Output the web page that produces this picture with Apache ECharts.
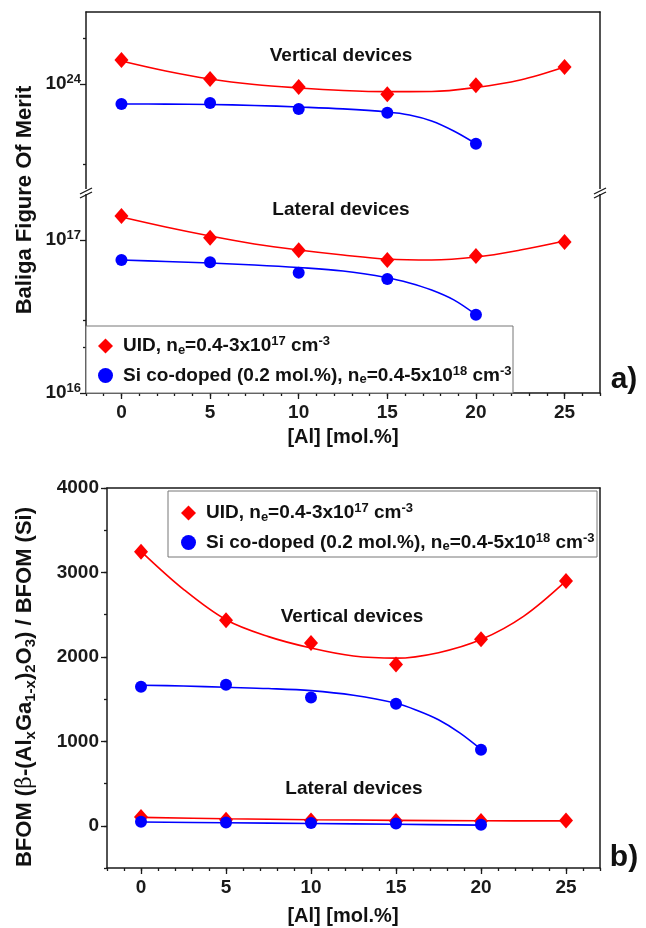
<!DOCTYPE html>
<html><head><meta charset="utf-8">
<script src="https://cdn.jsdelivr.net/npm/echarts@6/dist/echarts.min.js"></script>
<style>html,body{margin:0;padding:0;background:#fff}#c{width:646px;height:928px}</style>
</head><body><div id="c"></div>
<script>
// ---------- data ----------
const xUID = [0, 5, 10, 15, 20, 25];
const xSi = [0, 5, 10, 15, 20];
// panel a (Baliga figure of merit, log scale)
const aVertUID = [1.435e24, 1.078e24, 0.956e24, 0.857e24, 0.981e24, 1.291e24];
const aVertSi = [0.740e24, 0.751e24, 0.687e24, 0.649e24, 0.407e24];
const aLatUID = [1.435e17, 1.035e17, 0.857e17, 0.740e17, 0.786e17, 0.970e17];
const aLatSi = [0.740e17, 0.715e17, 0.611e17, 0.556e17, 0.325e17];
// fitted curves
const fitX = [0, 2.5, 5, 7.5, 10, 12.5, 15, 17.5, 20, 22.5, 25];
const fitXSi = [0, 2.5, 5, 7.5, 10, 12.5, 15, 16.25, 17.5, 18.75, 20];
const aVertUIDFit = [1.413e24, 1.216e24, 1.078e24, 0.992e24, 0.942e24, 0.907e24, 0.891e24, 0.893e24, 0.949e24, 1.062e24, 1.291e24];
const aVertSiFit = [0.740e24, 0.738e24, 0.734e24, 0.724e24, 0.707e24, 0.687e24, 0.656e24, 0.627e24, 0.573e24, 0.493e24, 0.407e24];
const aLatUIDFit = [1.413e17, 1.216e17, 1.062e17, 0.942e17, 0.860e17, 0.798e17, 0.751e17, 0.740e17, 0.774e17, 0.860e17, 0.985e17];
const aLatSiFit = [0.740e17, 0.724e17, 0.707e17, 0.687e17, 0.661e17, 0.627e17, 0.567e17, 0.524e17, 0.471e17, 0.406e17, 0.325e17];
// panel b (BFOM ratio, linear)
const bVertUID = [3245, 2435, 2165, 1910, 2210, 2900];
const bVertSi = [1645, 1670, 1520, 1445, 900];
const bLatUID = [103, 71, 63, 56, 56, 63];
const bLatSi = [47, 40, 32, 27, 12];
const bVertUIDFit = [3250, 2800, 2440, 2240, 2105, 2010, 1985, 2050, 2205, 2480, 2900];
const bVertSiFit = [1665, 1655, 1640, 1625, 1600, 1545, 1450, 1365, 1255, 1100, 905];
const bLatUIDFit = [100, 84, 72, 64, 59, 58];
const bLatSiFit = [45, 36, 27, 18, 8];
// tick labels
const xTicks = [0, 5, 10, 15, 20, 25];
const bYTicks = [0, 1000, 2000, 3000, 4000];

// ---------- helpers ----------
const FONT = '"Liberation Sans", Arial, sans-serif';
const RED = '#ff0000', BLUE = '#0000ff', AX = '#1a1a1a';
const zip = (xs, ys) => xs.map((x, i) => [x, ys[i]]);
const supRich = { sup: { fontSize: 13, fontWeight: 'bold', fontFamily: FONT, color: AX, padding: [0, 0, 10, 0] } };
const axLine = { show: true, onZero: false, lineStyle: { color: AX, width: 1.5 } };
const noLine = { show: false, onZero: false };

function scatter(name, xi, yi, xs, ys) {
  const isUID = name === 'UID';
  return { type: 'scatter', name, xAxisIndex: xi, yAxisIndex: yi, data: zip(xs, ys),
    symbol: isUID ? 'diamond' : 'circle', symbolSize: isUID ? [14, 16] : 12,
    itemStyle: { color: isUID ? RED : BLUE, opacity: 1 }, z: 5 };
}
function fit(name, xi, yi, xs, ys, color) {
  return { type: 'line', name, xAxisIndex: xi, yAxisIndex: yi, data: zip(xs, ys), smooth: 0.35,
    showSymbol: false, symbol: 'none', lineStyle: { color, width: 1.6 }, z: 3, silent: true };
}
const legendFmt = n => n === 'UID'
  ? '{f|UID, n}{sub|e}{t|=0.4-3x10}{sup|17}{t| cm}{sup|-3}'
  : '{f|Si co-doped (0.2 mol.%), n}{sub|e}{t|=0.4-5x10}{sup|18}{t| cm}{sup|-3}';
const legendRich = {
  f: { fontSize: 19, fontWeight: 'bold', fontFamily: FONT, color: '#111', padding: [0, 0, 0, 5] },
  t: { fontSize: 19, fontWeight: 'bold', fontFamily: FONT, color: '#111' },
  sub: { fontSize: 13, fontWeight: 'bold', fontFamily: FONT, color: '#111', padding: [8, 0, 0, 0] },
  sup: { fontSize: 13, fontWeight: 'bold', fontFamily: FONT, color: '#111', padding: [0, 0, 9, 0] }
};
function mkLegend(left, top) {
  return { orient: 'vertical', left, top, itemGap: 8, itemWidth: 15, itemHeight: 15,
    data: [{ name: 'UID', icon: 'diamond' }, { name: 'Si', icon: 'circle' }],
    itemStyle: { opacity: 1 },
    formatter: legendFmt, textStyle: { rich: legendRich }, selectedMode: false };
}
const isPow10 = v => Math.abs(Math.log10(v) - Math.round(Math.log10(v))) < 1e-6;
const logLabel = { fontSize: 19, fontWeight: 'bold', fontFamily: FONT, color: AX, margin: 5,
  formatter: v => isPow10(v) ? '10{sup|' + Math.round(Math.log10(v)) + '}' : '', rich: supRich };

function breakMark(x, y) {
  return { type: 'group', x, y, children: [
    { type: 'rect', shape: { x: -2, y: -3, width: 4, height: 5 }, style: { fill: '#fff' }, z: 100 },
    { type: 'line', shape: { x1: -6, y1: 2, x2: 6, y2: -4 }, style: { stroke: AX, lineWidth: 1.3 }, z: 101 },
    { type: 'line', shape: { x1: -6, y1: 6, x2: 6, y2: 0 }, style: { stroke: AX, lineWidth: 1.3 }, z: 101 }
  ] };
}
function txt(x, y, text, size, extra) {
  return Object.assign({ type: 'text', x, y, z: 50, style: { text, fontSize: size, fontWeight: 'bold', fontFamily: FONT,
    fill: '#111', align: 'center', verticalAlign: 'middle' } }, extra || {});
}

const chart = echarts.init(document.getElementById('c'), null, { renderer: 'canvas' });
const xBase = { type: 'value', min: -2, max: 27, splitLine: { show: false } };
const noStuff = { axisTick: { show: false }, axisLabel: { show: false }, splitLine: { show: false } };
const tickLabelX = { fontSize: 19, fontWeight: 'bold', fontFamily: FONT, color: AX, margin: 10,
  formatter: v => xTicks.includes(v) ? String(v) : '' };

chart.setOption({
  animation: false,
  backgroundColor: '#fff',
  grid: [
    { left: 86, right: 46, top: 12, height: 180 },
    { left: 86, right: 46, top: 192, height: 201 },
    { left: 107, right: 46, top: 488, height: 380 }
  ],
  xAxis: [
    Object.assign({}, xBase, noStuff, { gridIndex: 0, position: 'top', axisLine: axLine }),
    Object.assign({}, xBase, { gridIndex: 1, position: 'bottom', interval: 1, axisLine: axLine,
      axisTick: { show: true, inside: false, length: 3, lineStyle: { color: AX, width: 1.3 } },
      axisLabel: tickLabelX }),
    Object.assign({}, xBase, { gridIndex: 1, position: 'bottom', axisLine: noLine,
      axisTick: { show: true, length: 6, customValues: xTicks, lineStyle: { color: AX, width: 1.3 } },
      axisLabel: { show: false } }),
    Object.assign({}, xBase, { gridIndex: 2, position: 'bottom', interval: 1, axisLine: axLine,
      axisTick: { show: true, length: 3, lineStyle: { color: AX, width: 1.3 } },
      axisLabel: tickLabelX }),
    Object.assign({}, xBase, { gridIndex: 2, position: 'bottom', axisLine: noLine,
      axisTick: { show: true, length: 6, customValues: xTicks, lineStyle: { color: AX, width: 1.3 } },
      axisLabel: { show: false } }),
    Object.assign({}, xBase, noStuff, { gridIndex: 2, position: 'top', axisLine: axLine })
  ],
  yAxis: [
    { type: 'log', logBase: 10, gridIndex: 0, position: 'left', min: 1.97e23, max: 2.95e24, axisLine: axLine,
      axisTick: { show: true, length: 6, customValues: [1e24], lineStyle: { color: AX, width: 1.3 } },
      axisLabel: Object.assign({ customValues: [1e24] }, logLabel), splitLine: { show: false } },
    Object.assign({ type: 'log', gridIndex: 0, position: 'right', min: 1.97e23, max: 2.95e24, axisLine: axLine }, noStuff),
    { type: 'log', gridIndex: 0, position: 'left', min: 1.97e23, max: 2.95e24, axisLine: noLine,
      axisTick: { show: true, length: 3, customValues: [3e23, 2e24], lineStyle: { color: AX, width: 1.3 } },
      axisLabel: { show: false }, splitLine: { show: false } },
    { type: 'log', logBase: 10, gridIndex: 1, position: 'left', min: 1e16, max: 2.06e17, axisLine: axLine,
      axisTick: { show: true, length: 6, customValues: [1e16, 1e17], lineStyle: { color: AX, width: 1.3 } },
      axisLabel: Object.assign({ customValues: [1e16, 1e17] }, logLabel), splitLine: { show: false } },
    Object.assign({ type: 'log', gridIndex: 1, position: 'right', min: 1e16, max: 2.06e17, axisLine: axLine }, noStuff),
    { type: 'log', gridIndex: 1, position: 'left', min: 1e16, max: 2.06e17, axisLine: noLine,
      axisTick: { show: true, length: 3, customValues: [2e16, 3e16], lineStyle: { color: AX, width: 1.3 } },
      axisLabel: { show: false }, splitLine: { show: false } },
    { type: 'value', gridIndex: 2, position: 'left', min: -500, max: 4000, interval: 500, axisLine: axLine,
      axisTick: { show: true, length: 3, lineStyle: { color: AX, width: 1.3 } },
      axisLabel: { fontSize: 19, fontWeight: 'bold', fontFamily: FONT, color: AX, margin: 8,
        formatter: v => bYTicks.includes(v) ? String(v) : '' }, splitLine: { show: false } },
    { type: 'value', gridIndex: 2, position: 'left', min: -500, max: 4000, axisLine: noLine,
      axisTick: { show: true, length: 6, customValues: bYTicks, lineStyle: { color: AX, width: 1.3 } },
      axisLabel: { show: false }, splitLine: { show: false } },
    Object.assign({ type: 'value', gridIndex: 2, position: 'right', min: -500, max: 4000, axisLine: axLine }, noStuff)
  ],
  legend: [mkLegend(93, 330), mkLegend(176, 497)],
  series: [
    fit('fitA1', 0, 0, fitX, aVertUIDFit, RED),
    fit('fitA2', 0, 0, fitXSi, aVertSiFit, BLUE),
    scatter('UID', 0, 0, xUID, aVertUID),
    scatter('Si', 0, 0, xSi, aVertSi),
    fit('fitA3', 1, 3, fitX, aLatUIDFit, RED),
    fit('fitA4', 1, 3, fitXSi, aLatSiFit, BLUE),
    scatter('UID', 1, 3, xUID, aLatUID),
    scatter('Si', 1, 3, xSi, aLatSi),
    fit('fitB1', 3, 6, fitX, bVertUIDFit, RED),
    fit('fitB2', 3, 6, fitXSi, bVertSiFit, BLUE),
    fit('fitB3', 3, 6, xUID, bLatUIDFit, RED),
    fit('fitB4', 3, 6, xSi, bLatSiFit, BLUE),
    scatter('UID', 3, 6, xUID, bVertUID),
    scatter('Si', 3, 6, xSi, bVertSi),
    scatter('UID', 3, 6, xUID, bLatUID),
    scatter('Si', 3, 6, xSi, bLatSi)
  ],
  graphic: [
    { type: 'rect', z: 1, shape: { x: 86, y: 326, width: 427, height: 67 }, style: { fill: '#fff', stroke: '#777', lineWidth: 1 } },
    { type: 'rect', z: 1, shape: { x: 168, y: 491, width: 429, height: 66 }, style: { fill: '#fff', stroke: '#777', lineWidth: 1 } },
    breakMark(86, 192), breakMark(600, 192),
    txt(341, 56, 'Vertical devices', 19),
    txt(341, 210, 'Lateral devices', 19),
    txt(352, 617, 'Vertical devices', 19),
    txt(354, 789, 'Lateral devices', 19),
    txt(343, 437, '[Al] [mol.%]', 20),
    txt(343, 916, '[Al] [mol.%]', 20),
    txt(624, 380, 'a)', 30),
    txt(624, 858, 'b)', 30),
    txt(25, 200, 'Baliga Figure Of Merit', 22, { rotation: Math.PI / 2 }),
    { type: 'text', x: 25, y: 687, rotation: Math.PI / 2, z: 50, style: {
      text: '{t|BFOM (}{g|β}{t|-(Al}{s|x}{t|Ga}{s|1-x}{t|)}{s|2}{t|O}{s|3}{t|) / BFOM (Si)}',
      align: 'center', verticalAlign: 'middle',
      rich: {
        t: { fontSize: 22, fontWeight: 'bold', fontFamily: FONT, fill: '#111' },
        g: { fontSize: 22, fontFamily: '"DejaVu Serif", serif', fill: '#111' },
        s: { fontSize: 15, fontWeight: 'bold', fontFamily: FONT, fill: '#111', padding: [11, 0, 0, 0] }
      } } }
  ]
});
</script></body></html>
